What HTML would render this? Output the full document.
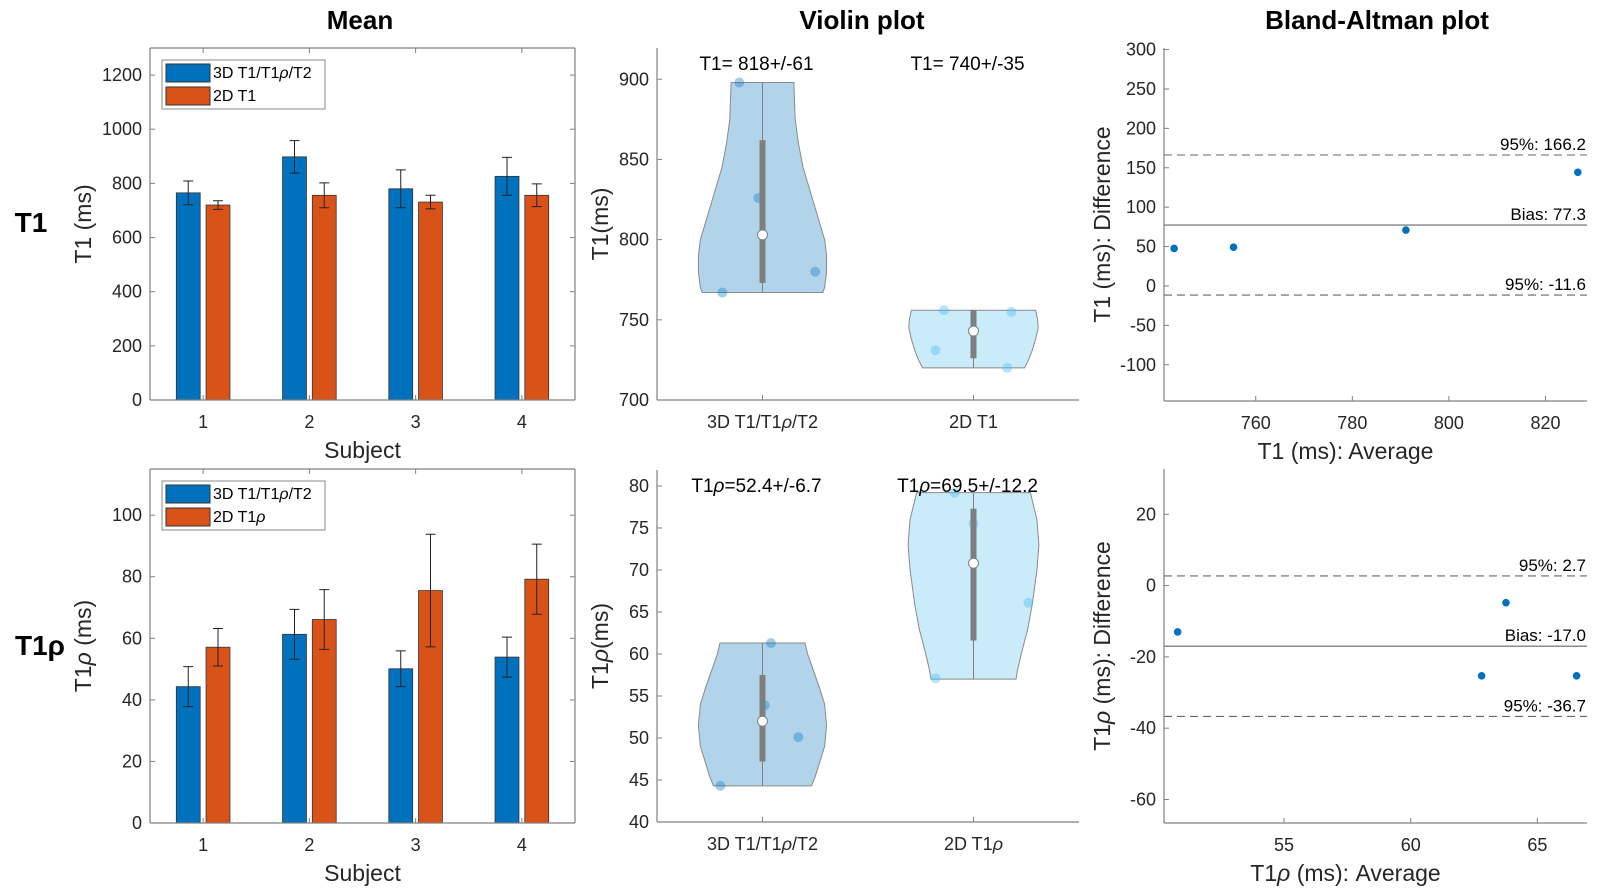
<!DOCTYPE html>
<html><head><meta charset="utf-8"><style>
html,body{margin:0;padding:0;background:#fff;}
svg{display:block;font-family:"Liberation Sans",sans-serif;}
</style></head><body>
<svg id="fig" width="1597" height="892" viewBox="0 0 1597 892" xmlns="http://www.w3.org/2000/svg"></svg>
<script>
// ---- data ----
const subjects = [1, 2, 3, 4];
const t1Mean3D = [765, 898, 780, 826];
const t1Err3D = [44, 60, 70, 70];
const t1Mean2D = [720, 756, 731, 756];
const t1Err2D = [16, 46, 25, 42];
const t1rMean3D = [44.3, 61.3, 50.1, 53.9];
const t1rErr3D = [6.5, 8.1, 5.8, 6.5];
const t1rMean2D = [57.1, 66.1, 75.5, 79.2];
const t1rErr2D = [6.1, 9.7, 18.3, 11.4];

const violinCats = ["3D T1/T1ρ/T2", "2D T1"];
const vT1Levels1 = [767, 770, 780, 790, 800, 815, 830, 845, 860, 875, 898];
const vT1Dens1 = [0.92, 0.95, 0.98, 0.98, 0.95, 0.84, 0.73, 0.62, 0.55, 0.5, 0.48];
const vT1Levels2 = [720, 725, 730, 738, 745, 750, 756];
const vT1Dens2 = [0.78, 0.84, 0.89, 0.95, 0.99, 0.98, 0.95];
const vT1Pts1 = [767, 898, 826, 780];
const vT1Jit1 = [-0.19, -0.11, -0.02, 0.25];
const vT1Pts2 = [756, 731, 755, 720];
const vT1Jit2 = [-0.14, -0.18, 0.18, 0.16];
const vT1Med = [803, 743];
const vT1Q1 = [773, 726];
const vT1Q3 = [862, 756];
const vT1Text = ["T1= 818+/-61", "T1= 740+/-35"];

const vRLevels1 = [44.3, 45.5, 47, 49, 51.5, 54, 56, 58, 60, 61.3];
const vRDens1 = [0.75, 0.81, 0.87, 0.95, 0.98, 0.95, 0.87, 0.78, 0.69, 0.65];
const vRLevels2 = [57, 58, 60, 63, 66, 70, 73, 76, 79.2];
const vRDens2 = [0.65, 0.67, 0.73, 0.83, 0.9, 0.97, 1.0, 0.97, 0.87];
const vRPts1 = [44.3, 61.3, 53.9, 50.1];
const vRJit1 = [-0.2, 0.04, 0.01, 0.17];
const vRPts2 = [79.2, 75.5, 57.1, 66.1];
const vRJit2 = [-0.09, 0.0, -0.18, 0.26];
const vRMed = [52.0, 70.8];
const vRQ1 = [47.2, 61.6];
const vRQ3 = [57.5, 77.3];
const vRText = ["=52.4+/-6.7", "=69.5+/-12.2"];

const baT1X = [743.1, 755.4, 791.1, 826.7];
const baT1Y = [47.6, 49.2, 70.9, 144.3];
const baT1Lines = [166.2, 77.3, -11.6];
const baRX = [50.8, 63.76, 62.8, 66.55];
const baRY = [-13.0, -4.8, -25.3, -25.3];
const baRLines = [2.7, -17.0, -36.7];

const barYTicks1 = [0, 200, 400, 600, 800, 1000, 1200];
const barYTicks2 = [0, 20, 40, 60, 80, 100];
const vYTicks1 = [700, 750, 800, 850, 900];
const vYTicks2 = [40, 45, 50, 55, 60, 65, 70, 75, 80];
const baYTicks1 = [-100, -50, 0, 50, 100, 150, 200, 250, 300];
const baXTicks1 = [760, 780, 800, 820];
const baYTicks2 = [-60, -40, -20, 0, 20];
const baXTicks2 = [55, 60, 65];

// ---- helpers ----
const NS = "http://www.w3.org/2000/svg";
const svg = document.getElementById("fig");
function mk(tag, attrs, parent) {
  const e = document.createElementNS(NS, tag);
  for (const k in attrs) e.setAttribute(k, attrs[k]);
  (parent || svg).appendChild(e);
  return e;
}
function txt(x, y, s, size, opts, parent) {
  opts = opts || {};
  const t = mk("text", {x: x, y: y, "font-size": size, fill: opts.fill || "#262626",
    "text-anchor": opts.anchor || "middle", "dominant-baseline": "central"}, parent);
  if (opts.weight) t.setAttribute("font-weight", opts.weight);
  if (opts.rot) t.setAttribute("transform", "rotate(-90 " + x + " " + y + ")");
  const parts = s.split("ρ");
  parts.forEach((p, i) => {
    if (p) { const ts = mk("tspan", {}, t); ts.textContent = p; }
    if (i < parts.length - 1) {
      const r = mk("tspan", {}, t);
      if (!opts.plainRho) r.setAttribute("font-style", "italic");
      r.textContent = "ρ";
    }
  });
  return t;
}
function axes(p) {
  p.sx = v => p.x0 + (v - p.xmin) / (p.xmax - p.xmin) * (p.x1 - p.x0);
  p.sy = v => p.y1 - (v - p.ymin) / (p.ymax - p.ymin) * (p.y1 - p.y0);
  return p;
}
function drawAxes(p, box, xticks, xlabels, yticks, g) {
  const c = "#808080";
  mk("line", {x1: p.x0, y1: p.y1, x2: p.x1, y2: p.y1, stroke: c, "stroke-width": 1.2}, g);
  mk("line", {x1: p.x0, y1: p.y0, x2: p.x0, y2: p.y1, stroke: c, "stroke-width": 1.2}, g);
  if (box) {
    mk("line", {x1: p.x0, y1: p.y0, x2: p.x1, y2: p.y0, stroke: c, "stroke-width": 1.2}, g);
    mk("line", {x1: p.x1, y1: p.y0, x2: p.x1, y2: p.y1, stroke: c, "stroke-width": 1.2}, g);
  }
  xticks.forEach((v, i) => {
    const x = p.sx(v);
    mk("line", {x1: x, y1: p.y1, x2: x, y2: p.y1 - 5, stroke: c}, g);
    if (box) mk("line", {x1: x, y1: p.y0, x2: x, y2: p.y0 + 5, stroke: c}, g);
    const t = txt(x, p.y1 + 22, xlabels[i], 18, {}, g);
    
    
  });
  yticks.forEach(v => {
    const y = p.sy(v);
    mk("line", {x1: p.x0, y1: y, x2: p.x0 + 5, y2: y, stroke: c}, g);
    if (box) mk("line", {x1: p.x1, y1: y, x2: p.x1 - 5, y2: y, stroke: c}, g);
    const t = txt(p.x0 - 8, y, String(v), 18, {anchor: "end"}, g);
    
    
  });
}
function group(name) {
  const g = mk("g", {});
  
  
  return g;
}

// ---- titles ----
[["Mean", 360, "title-mean"], ["Violin plot", 862, "title-violin"], ["Bland-Altman plot", 1377, "title-bland-altman"]].forEach(a => {
  const t = txt(a[1], 20, a[0], 26, {weight: "bold", fill: "#000"});
  
  
});
const rl1 = txt(31, 222, "T1", 28, {weight: "bold", fill: "#000"});


const rl2 = txt(40, 645, "T1ρ", 28, {weight: "bold", fill: "#000", plainRho: true});



// ---- bar charts ----
function barChart(name, p, m3, e3, m2, e2, yticks, ylabel, leg2) {
  const g = group(name);
  axes(p);
  const off = 0.14, bw = 0.225;
  [[m3, e3, -off, "#0072BD", "bar-3d"], [m2, e2, off, "#D95319", "bar-2d"]].forEach(s => {
    subjects.forEach((sub, i) => {
      const xa = p.sx(sub + s[2] - bw / 2), xb = p.sx(sub + s[2] + bw / 2);
      const r = mk("rect", {x: xa, y: p.sy(s[0][i]), width: xb - xa, height: p.sy(0) - p.sy(s[0][i]),
        fill: s[3], stroke: "#333", "stroke-width": 0.8}, g);
      
      
      const xc = p.sx(sub + s[2]);
      const yt = p.sy(s[0][i] + s[1][i]), yb = p.sy(s[0][i] - s[1][i]);
      const eb = mk("path", {d: `M${xc},${yt}V${yb}M${xc - 5},${yt}H${xc + 5}M${xc - 5},${yb}H${xc + 5}`,
        stroke: "#222", "stroke-width": 1, fill: "none"}, g);
      
      
    });
  });
  drawAxes(p, true, subjects, subjects.map(String), yticks, g);
  const yl = txt(p.x0 - 67, (p.y0 + p.y1) / 2, ylabel, 23, {rot: true}, g);
  
  
  const xl = txt((p.x0 + p.x1) / 2, p.y1 + 50, "Subject", 23, {}, g);
  
  
  const lg = mk("g", {}, g);
  
  
  mk("rect", {x: p.x0 + 12, y: p.y0 + 12, width: 163, height: 49, fill: "#fff", stroke: "#888"}, lg);
  mk("rect", {x: p.x0 + 16, y: p.y0 + 16, width: 44, height: 18, fill: "#0072BD", stroke: "#333"}, lg);
  mk("rect", {x: p.x0 + 16, y: p.y0 + 39, width: 44, height: 18, fill: "#D95319", stroke: "#333"}, lg);
  txt(p.x0 + 63, p.y0 + 25, "3D T1/T1ρ/T2", 16, {anchor: "start", fill: "#000"}, lg);
  txt(p.x0 + 63, p.y0 + 48, leg2, 16, {anchor: "start", fill: "#000"}, lg);
}
barChart("bar-chart-t1", {x0: 150, x1: 575, y0: 48, y1: 400, xmin: 0.5, xmax: 4.5, ymin: 0, ymax: 1300},
  t1Mean3D, t1Err3D, t1Mean2D, t1Err2D, barYTicks1, "T1 (ms)", "2D T1");
barChart("bar-chart-t1rho", {x0: 150, x1: 575, y0: 469, y1: 823, xmin: 0.5, xmax: 4.5, ymin: 0, ymax: 115},
  t1rMean3D, t1rErr3D, t1rMean2D, t1rErr2D, barYTicks2, "T1ρ (ms)", "2D T1ρ");

// ---- violins ----
function violinChart(name, p, cats, lv, dn, pts, jit, med, q1, q3, texts, textPrefix, yticks, ylabel) {
  const g = group(name);
  axes(p);
  const maxHW = 0.31;
  const fills = ["rgba(0,114,189,0.30)", "rgba(77,190,238,0.30)"];
  const dots = ["rgba(0,114,189,0.35)", "rgba(77,190,238,0.4)"];
  [0, 1].forEach(k => {
    const c = k + 1;
    const L = lv[k], D = dn[k];
    let d = "";
    L.forEach((v, i) => { d += (i ? "L" : "M") + p.sx(c + D[i] * maxHW) + "," + p.sy(v); });
    for (let i = L.length - 1; i >= 0; i--) d += "L" + p.sx(c - D[i] * maxHW) + "," + p.sy(L[i]);
    d += "Z";
    const v = mk("path", {d: d, fill: fills[k], stroke: "#8a8a8a", "stroke-width": 1}, g);
    
    
    const x = p.sx(c);
    mk("line", {x1: x, y1: p.sy(L[0]), x2: x, y2: p.sy(L[L.length - 1]), stroke: "#808080", "stroke-width": 1}, g);
    pts[k].forEach((val, i) => {
      const pt = mk("circle", {cx: p.sx(c + jit[k][i]), cy: p.sy(val), r: 5, fill: dots[k]}, g);
      
      
    });
    const box = mk("rect", {x: x - 3, y: p.sy(q3[k]), width: 6, height: p.sy(q1[k]) - p.sy(q3[k]), fill: "#7f7f7f"}, g);
    
    
    const m = mk("circle", {cx: x, cy: p.sy(med[k]), r: 5, fill: "#fff", stroke: "#808080", "stroke-width": 1}, g);
    
    
    const tt = txt(x - 6, p.y0 + 16, textPrefix + texts[k], 19, {fill: "#000"}, g);
    
    
  });
  drawAxes(p, false, [1, 2], cats, yticks, g);
  const yl = txt(p.x0 - 57, (p.y0 + p.y1) / 2, ylabel, 23, {rot: true}, g);
  
  
}
violinChart("violin-t1", {x0: 657, x1: 1079, y0: 48, y1: 400, xmin: 0.5, xmax: 2.5, ymin: 700, ymax: 919.5},
  violinCats, [vT1Levels1, vT1Levels2], [vT1Dens1, vT1Dens2], [vT1Pts1, vT1Pts2], [vT1Jit1, vT1Jit2],
  vT1Med, vT1Q1, vT1Q3, vT1Text, "", vYTicks1, "T1(ms)");
violinChart("violin-t1rho", {x0: 657, x1: 1079, y0: 470, y1: 822, xmin: 0.5, xmax: 2.5, ymin: 40, ymax: 81.9},
  ["3D T1/T1ρ/T2", "2D T1ρ"], [vRLevels1, vRLevels2], [vRDens1, vRDens2], [vRPts1, vRPts2], [vRJit1, vRJit2],
  vRMed, vRQ1, vRQ3, vRText, "T1ρ", vYTicks2, "T1ρ(ms)");

// ---- Bland-Altman ----
function baChart(name, p, xs, ys, lines, yticks, xticks, ylabel, xlabel) {
  const g = group(name);
  axes(p);
  const labels = ["95%: ", "Bias: ", "95%: "];
  lines.forEach((v, i) => {
    const y = p.sy(v);
    const l = mk("line", {x1: p.x0, y1: y, x2: p.x1, y2: y, stroke: "#666", "stroke-width": 1.1}, g);
    if (i !== 1) l.setAttribute("stroke-dasharray", "8,5");
    
    
    const t = txt(p.x1 - 1, y - 11, labels[i] + v.toFixed(1), 17, {anchor: "end", fill: "#000"}, g);
    
    
  });
  xs.forEach((xv, i) => {
    const c = mk("circle", {cx: p.sx(xv), cy: p.sy(ys[i]), r: 3.8, fill: "#0072BD"}, g);
    
    
  });
  drawAxes(p, false, xticks, xticks.map(String), yticks, g);
  const yl = txt(p.x0 - 62, (p.y0 + p.y1) / 2, ylabel, 23, {rot: true}, g);
  
  
  const xl = txt((p.x0 + p.x1) / 2 - 30, p.y1 + 50, xlabel, 23, {}, g);
  
  
}
baChart("bland-altman-t1", {x0: 1164, x1: 1587, y0: 48, y1: 401, xmin: 741, xmax: 828.6, ymin: -146, ymax: 302},
  baT1X, baT1Y, baT1Lines, baYTicks1, baXTicks1, "T1 (ms): Difference", "T1 (ms): Average");
baChart("bland-altman-t1rho", {x0: 1164, x1: 1587, y0: 469, y1: 823, xmin: 50.26, xmax: 66.96, ymin: -66.6, ymax: 32.7},
  baRX, baRY, baRLines, baYTicks2, baXTicks2, "T1ρ (ms): Difference", "T1ρ (ms): Average");
</script>
</body></html>
